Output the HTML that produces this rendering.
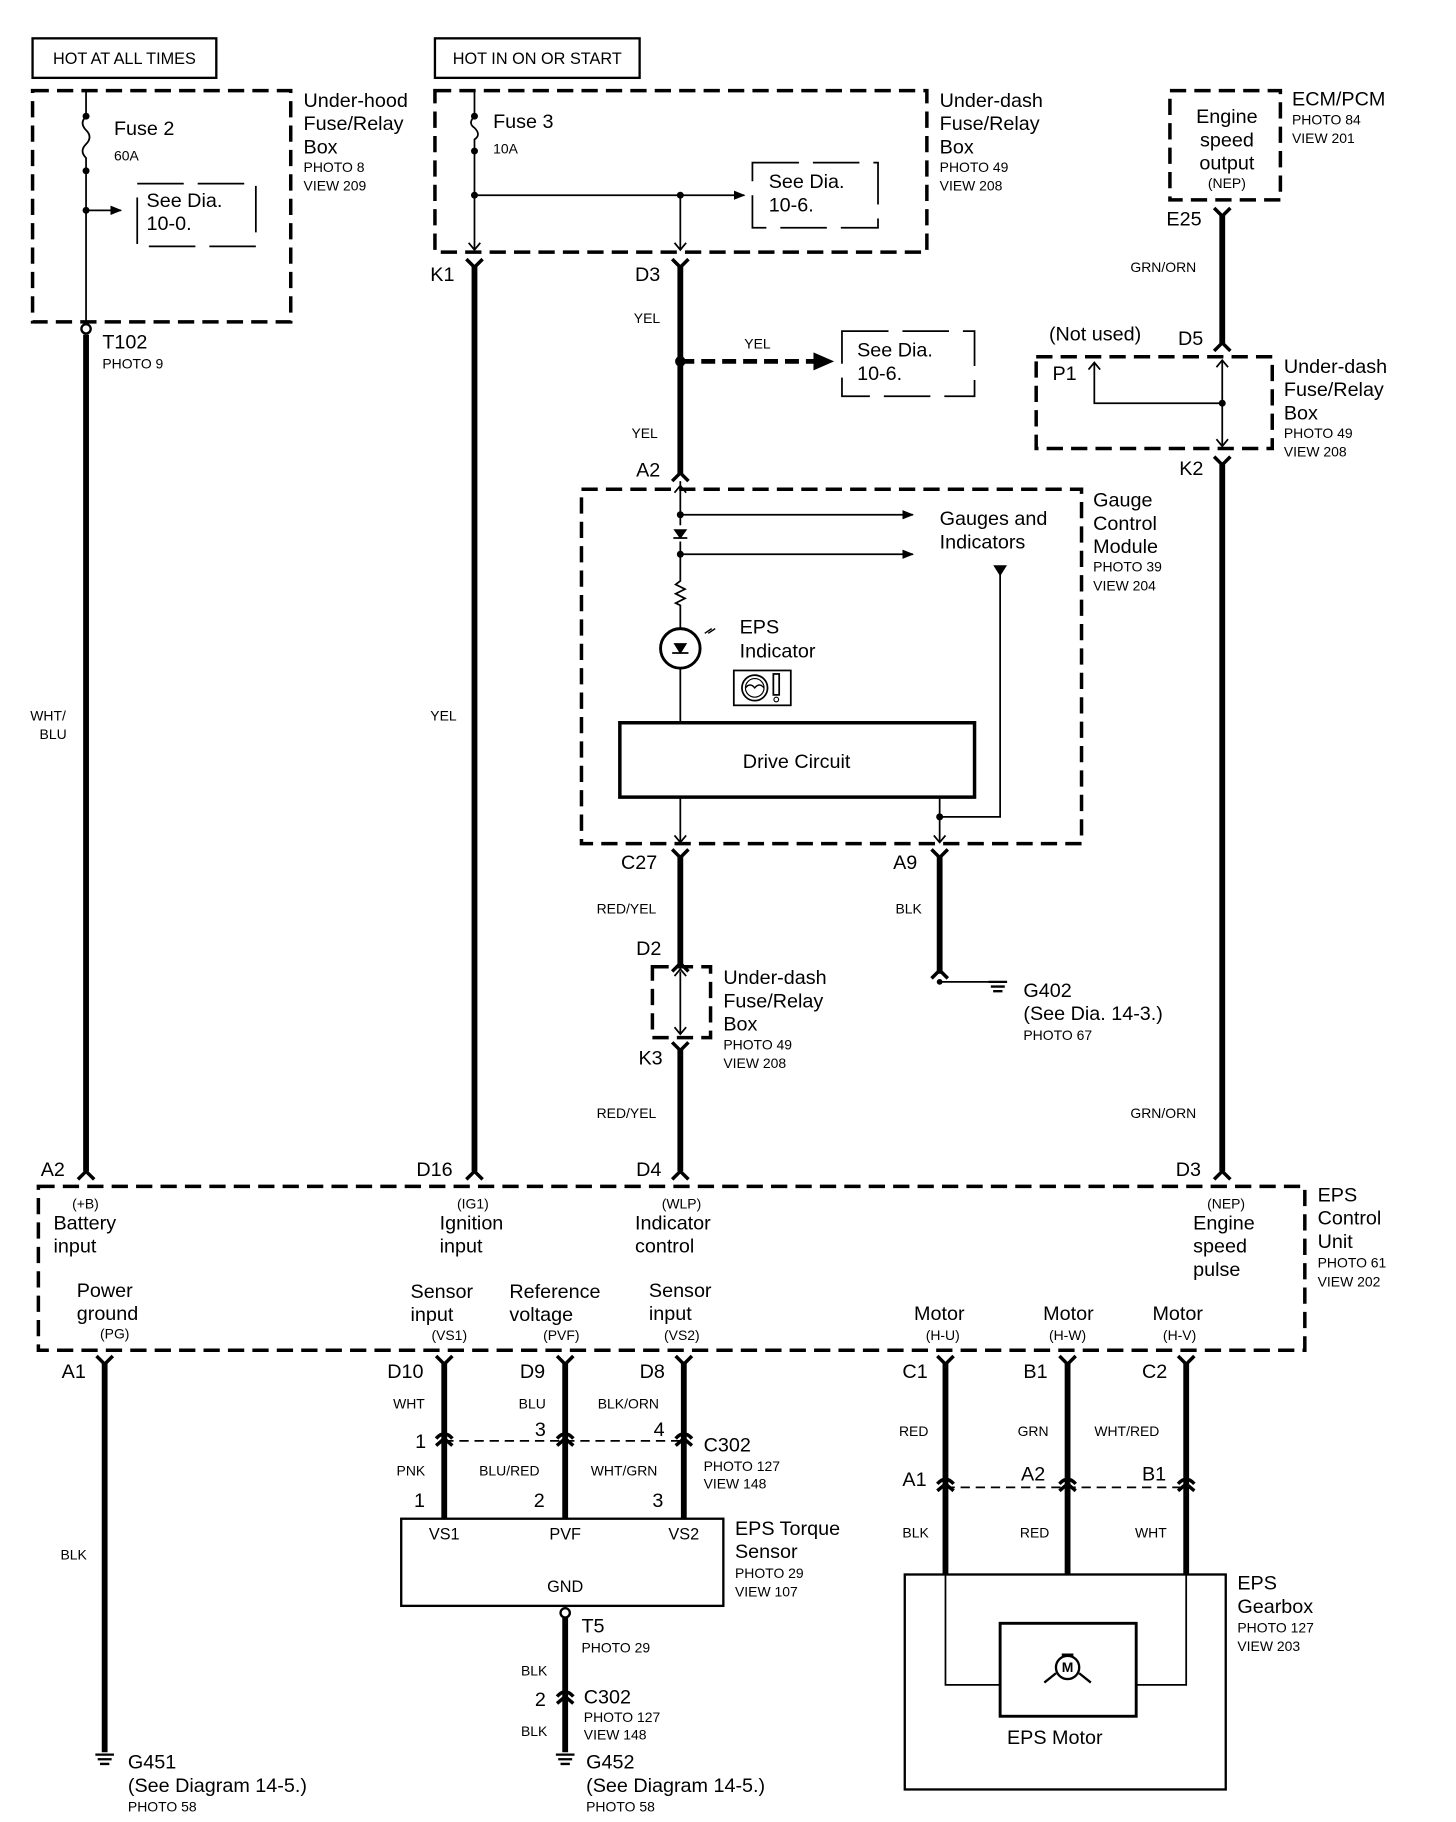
<!DOCTYPE html>
<html><head><meta charset="utf-8"><style>
html,body{margin:0;padding:0;background:#fff;}
svg{display:block;}
text{font-family:"Liberation Sans",Arial,sans-serif;fill:#000;}
.b{font-size:17px;}
.s{font-size:12px;}
.m{font-size:14px;}
</style></head><body>
<svg width="1456" height="1822" viewBox="0 0 1252 1568" preserveAspectRatio="none" xmlns="http://www.w3.org/2000/svg">
<defs>
<marker id="ar" markerWidth="10" markerHeight="10" refX="9" refY="5" orient="auto" markerUnits="userSpaceOnUse"><path d="M0,1 L10,5 L0,9 Z" fill="#000"/></marker>
</defs>
<g fill="none" stroke="#000">
<rect x="28" y="33" width="158" height="34" stroke-width="2"/>
<rect x="374" y="33" width="176" height="34" stroke-width="2"/>
<g stroke-width="3" stroke-dasharray="14,7">
<rect x="28" y="78" width="222" height="199"/>
<rect x="374" y="78" width="423" height="139"/>
<rect x="1006" y="78" width="95" height="94"/>
<rect x="891" y="307" width="203" height="79"/>
<rect x="500" y="421" width="430" height="305"/>
<rect x="561" y="832" width="50" height="61"/>
<rect x="33" y="1021" width="1089" height="141"/>
</g>
<g stroke-width="1.5" stroke-dasharray="40,12">
<rect x="118" y="158" width="102" height="54"/>
<rect x="647" y="140" width="108" height="56"/>
<rect x="724" y="285" width="114" height="56"/>
</g>
<g stroke-width="1.5">
<path d="M74,78 V100 M74,100 q-6,6 0,12 q6,6 0,12 q-6,6 0,12 V277"/>
<path d="M74,181 H104" marker-end="url(#ar)"/>
<path d="M408,78 V100 q-6,6 0,10 q6,6 0,10 V214" />
<path d="M408,168 H640" marker-end="url(#ar)"/>
<path d="M585,168 V214"/>
<path d="M585,414 V452 M585,466 V500 l-4,3 8,4 -8,4 8,4 -8,4 4,2 V541 M585,575 V622"/>
<path d="M585,443 H785" marker-end="url(#ar)"/>
<path d="M585,477 H785" marker-end="url(#ar)"/>
<path d="M860,492 V703 H808"/>
<path d="M585,686 V724 M808,686 V724"/>
<path d="M585,836 V890"/>
<path d="M1051,310 V384 M1051,347 H941 V312"/>
<path d="M808,845 H852"/>
<path d="M382,1240 H588 M813,1280 H1020" stroke-dasharray="8,5"/>
<path d="M813,1355 V1450 H860 M1020,1355 V1450 H977"/>
</g>
<g stroke-width="1.5">
<path d="M403,209 L408,215 L413,209 M580,209 L585,215 L590,209 M580,719 L585,725 L590,719 M803,719 L808,725 L813,719 M580,424 L585,418 L590,424 M580,840 L585,834 L590,840 M580,884 L585,890 L590,884 M1046,316 L1051,310 L1056,316 M1046,378 L1051,384 L1056,378 M936,318 L941,312 L946,318"/>
</g>
<path d="M855,487 H865 L860,495 Z" fill="#000"/>
<path d="M580,456 H590 L585,463 Z" fill="#000"/><path d="M579,463 H591" stroke-width="1.5"/>
<g fill="#000" stroke="none">
<circle cx="74" cy="100" r="3"/><circle cx="74" cy="147" r="3"/><circle cx="74" cy="181" r="3"/>
<circle cx="408" cy="100" r="3"/><circle cx="408" cy="130" r="3"/><circle cx="408" cy="168" r="3"/><circle cx="585" cy="168" r="3"/>
<circle cx="585" cy="311" r="4.5"/><circle cx="585" cy="443" r="3"/><circle cx="585" cy="477" r="3"/><circle cx="808" cy="703" r="3"/>
<circle cx="1051" cy="347" r="3"/><circle cx="808" cy="845" r="2.5"/>
</g>
<g stroke-width="5">
<path d="M74,288 V1008"/>
<path d="M408,228 V1008"/>
<path d="M585,228 V408"/>
<path d="M585,736 V830 M585,902 V1008"/>
<path d="M808,736 V838"/>
<path d="M1051,184 V296 M1051,398 V1008"/>
<path d="M90,1172 V1508"/>
<path d="M382,1172 V1307 M486,1172 V1307 M588,1172 V1307"/>
<path d="M486,1392 V1508"/>
<path d="M813,1172 V1355 M918,1172 V1355 M1020,1172 V1355"/>
</g>
<path d="M585,311 H712" stroke-width="4" stroke-dasharray="12,6" />
<path d="M700,304 L716,311 L700,318 Z" fill="#000"/>
<g stroke-width="3">
<path d="M401,223 L408,230 L415,223 M578,223 L585,230 L592,223 M1044,179 L1051,186 L1058,179 M1044,393 L1051,400 L1058,393 M578,731 L585,738 L592,731 M801,731 L808,738 L815,731 M578,897 L585,904 L592,897
 M83,1167 L90,1174 L97,1167 M375,1167 L382,1174 L389,1167 M479,1167 L486,1174 L493,1167 M581,1167 L588,1174 L595,1167 M806,1167 L813,1174 L820,1167 M911,1167 L918,1174 L925,1167 M1013,1167 L1020,1174 L1027,1167"/>
<path d="M67,1015 L74,1008 L81,1015 M401,1015 L408,1008 L415,1015 M578,1015 L585,1008 L592,1015 M1044,1015 L1051,1008 L1058,1015 M578,414 L585,407 L592,414 M1044,302 L1051,295 L1058,302 M801,842 L808,835 L815,842 M578,836 L585,829 L592,836"/>
<path d="M375,1238 Q382,1230 389,1238 M375,1244 L382,1238 L389,1244 M479,1238 Q486,1230 493,1238 M479,1244 L486,1238 L493,1244 M581,1238 Q588,1230 595,1238 M581,1244 L588,1238 L595,1244"/>
<path d="M806,1277 Q813,1269 820,1277 M806,1283 L813,1277 L820,1283 M911,1277 Q918,1269 925,1277 M911,1283 L918,1277 L925,1283 M1013,1277 Q1020,1269 1027,1277 M1013,1283 L1020,1277 L1027,1283"/>
<path d="M479,1460 Q486,1452 493,1460 M479,1466 L486,1460 L493,1466"/>
</g>
<circle cx="74" cy="283" r="4" stroke-width="2" fill="#fff"/>
<circle cx="486" cy="1388" r="4" stroke-width="2" fill="#fff"/>
<circle cx="585" cy="558" r="17" stroke-width="2.5"/>
<path d="M580,554 H590 L585,562 Z" fill="#000"/><path d="M578,562 H592" stroke-width="1.5"/>
<path d="M606,545 l6,-4 m-3,4 l6,-4" stroke-width="1.2"/>
<rect x="631" y="577" width="49" height="30" stroke-width="1.5"/>
<circle cx="649" cy="592" r="11" stroke-width="1.5"/><circle cx="649" cy="592" r="8" stroke-width="1"/>
<path d="M641,592 q4,-5 8,0 q4,-5 8,0" stroke-width="1.2"/>
<rect x="665" y="580" width="5" height="18" stroke-width="1.5"/><circle cx="667.5" cy="602" r="2" stroke-width="1"/>
<rect x="533" y="622" width="305" height="64" stroke-width="3"/>
<rect x="345" y="1307" width="277" height="75" stroke-width="2"/>
<rect x="778" y="1355" width="276" height="185" stroke-width="2"/>
<rect x="860" y="1397" width="117" height="80" stroke-width="2.5"/>
<circle cx="918" cy="1435" r="10" stroke-width="2"/>
<path d="M898,1448 L908,1440 M938,1448 L928,1440 M913,1424 h10" stroke-width="2"/>
<g stroke-width="2">
<path d="M82,1510 h16 M84,1514 h12 M86,1518 h8"/>
<path d="M478,1510 h16 M480,1514 h12 M482,1518 h8"/>
<path d="M850,845 h16 M852,849 h12 M854,853 h8"/>
</g>
</g>
<text class="m" x="107" y="55" text-anchor="middle">HOT AT ALL TIMES</text>
<text class="m" x="462" y="55" text-anchor="middle">HOT IN ON OR START</text>
<text class="b" x="98" y="116">Fuse 2</text><text class="s" x="98" y="138">60A</text>
<text class="b" x="126" y="178">See Dia.</text><text class="b" x="126" y="198">10-0.</text>
<text class="b" x="261" y="92">Under-hood</text><text class="b" x="261" y="112">Fuse/Relay</text><text class="b" x="261" y="132">Box</text><text class="s" x="261" y="148">PHOTO 8</text><text class="s" x="261" y="164">VIEW 209</text>
<text class="b" x="88" y="300">T102</text><text class="s" x="88" y="317">PHOTO 9</text>
<text class="s" x="26" y="620">WHT/</text><text class="s" x="34" y="636">BLU</text>
<text class="b" x="424" y="110">Fuse 3</text><text class="s" x="424" y="132">10A</text>
<text class="b" x="661" y="162">See Dia.</text><text class="b" x="661" y="182">10-6.</text>
<text class="b" x="808" y="92">Under-dash</text><text class="b" x="808" y="112">Fuse/Relay</text><text class="b" x="808" y="132">Box</text><text class="s" x="808" y="148">PHOTO 49</text><text class="s" x="808" y="164">VIEW 208</text>
<text class="b" x="370" y="242">K1</text><text class="s" x="370" y="620">YEL</text><text class="b" x="358" y="1012">D16</text>
<text class="b" x="546" y="242">D3</text><text class="s" x="545" y="278">YEL</text>
<text class="s" x="640" y="300">YEL</text>
<text class="b" x="737" y="307">See Dia.</text><text class="b" x="737" y="327">10-6.</text>
<text class="s" x="543" y="377">YEL</text><text class="b" x="547" y="410">A2</text>
<text class="b" x="808" y="452">Gauges and</text><text class="b" x="808" y="472">Indicators</text>
<text class="b" x="636" y="545">EPS</text><text class="b" x="636" y="566">Indicator</text>
<text class="b" x="685" y="661" text-anchor="middle">Drive Circuit</text>
<text class="b" x="940" y="436">Gauge</text><text class="b" x="940" y="456">Control</text><text class="b" x="940" y="476">Module</text><text class="s" x="940" y="492">PHOTO 39</text><text class="s" x="940" y="508">VIEW 204</text>
<text class="b" x="534" y="748">C27</text><text class="s" x="513" y="786">RED/YEL</text><text class="b" x="547" y="822">D2</text>
<text class="b" x="549" y="916">K3</text><text class="s" x="513" y="962">RED/YEL</text><text class="b" x="547" y="1012">D4</text>
<text class="b" x="622" y="847">Under-dash</text><text class="b" x="622" y="867">Fuse/Relay</text><text class="b" x="622" y="887">Box</text><text class="s" x="622" y="903">PHOTO 49</text><text class="s" x="622" y="919">VIEW 208</text>
<text class="b" x="768" y="748">A9</text><text class="s" x="770" y="786">BLK</text>
<text class="b" x="880" y="858">G402</text><text class="b" x="880" y="878">(See Dia. 14-3.)</text><text class="s" x="880" y="895">PHOTO 67</text>
<text class="b" x="1055" y="106" text-anchor="middle">Engine</text><text class="b" x="1055" y="126" text-anchor="middle">speed</text><text class="b" x="1055" y="146" text-anchor="middle">output</text><text class="s" x="1055" y="162" text-anchor="middle">(NEP)</text>
<text class="b" x="1111" y="91">ECM/PCM</text><text class="s" x="1111" y="107">PHOTO 84</text><text class="s" x="1111" y="123">VIEW 201</text>
<text class="b" x="1003" y="194">E25</text><text class="s" x="972" y="234">GRN/ORN</text>
<text class="b" x="902" y="293">(Not used)</text><text class="b" x="1013" y="297">D5</text><text class="b" x="905" y="327">P1</text>
<text class="b" x="1104" y="321">Under-dash</text><text class="b" x="1104" y="341">Fuse/Relay</text><text class="b" x="1104" y="361">Box</text><text class="s" x="1104" y="377">PHOTO 49</text><text class="s" x="1104" y="393">VIEW 208</text>
<text class="b" x="1014" y="409">K2</text><text class="s" x="972" y="962">GRN/ORN</text><text class="b" x="1011" y="1012">D3</text>
<text class="b" x="35" y="1012">A2</text>
<text class="s" x="62" y="1040">(+B)</text><text class="b" x="46" y="1058">Battery</text><text class="b" x="46" y="1078">input</text>
<text class="s" x="393" y="1040">(IG1)</text><text class="b" x="378" y="1058">Ignition</text><text class="b" x="378" y="1078">input</text>
<text class="s" x="569" y="1040">(WLP)</text><text class="b" x="546" y="1058">Indicator</text><text class="b" x="546" y="1078">control</text>
<text class="s" x="1038" y="1040">(NEP)</text><text class="b" x="1026" y="1058">Engine</text><text class="b" x="1026" y="1078">speed</text><text class="b" x="1026" y="1098">pulse</text>
<text class="b" x="1133" y="1034">EPS</text><text class="b" x="1133" y="1054">Control</text><text class="b" x="1133" y="1074">Unit</text><text class="s" x="1133" y="1091">PHOTO 61</text><text class="s" x="1133" y="1107">VIEW 202</text>
<text class="b" x="66" y="1116">Power</text><text class="b" x="66" y="1136">ground</text><text class="s" x="86" y="1152">(PG)</text>
<text class="b" x="353" y="1117">Sensor</text><text class="b" x="353" y="1137">input</text><text class="s" x="371" y="1153">(VS1)</text>
<text class="b" x="438" y="1117">Reference</text><text class="b" x="438" y="1137">voltage</text><text class="s" x="467" y="1153">(PVF)</text>
<text class="b" x="558" y="1116">Sensor</text><text class="b" x="558" y="1136">input</text><text class="s" x="571" y="1153">(VS2)</text>
<text class="b" x="786" y="1136">Motor</text><text class="s" x="796" y="1153">(H-U)</text>
<text class="b" x="897" y="1136">Motor</text><text class="s" x="902" y="1153">(H-W)</text>
<text class="b" x="991" y="1136">Motor</text><text class="s" x="1000" y="1153">(H-V)</text>
<text class="b" x="53" y="1186">A1</text><text class="s" x="52" y="1342">BLK</text>
<text class="b" x="110" y="1522">G451</text><text class="b" x="110" y="1542">(See Diagram 14-5.)</text><text class="s" x="110" y="1559">PHOTO 58</text>
<text class="b" x="333" y="1186">D10</text><text class="b" x="447" y="1186">D9</text><text class="b" x="550" y="1186">D8</text>
<text class="s" x="338" y="1212">WHT</text><text class="s" x="446" y="1212">BLU</text><text class="s" x="514" y="1212">BLK/ORN</text>
<text class="b" x="357" y="1246">1</text><text class="b" x="460" y="1236">3</text><text class="b" x="562" y="1236">4</text>
<text class="b" x="605" y="1249">C302</text><text class="s" x="605" y="1266">PHOTO 127</text><text class="s" x="605" y="1281">VIEW 148</text>
<text class="s" x="341" y="1270">PNK</text><text class="s" x="412" y="1270">BLU/RED</text><text class="s" x="508" y="1270">WHT/GRN</text>
<text class="b" x="356" y="1297">1</text><text class="b" x="459" y="1297">2</text><text class="b" x="561" y="1297">3</text>
<text class="m" x="382" y="1325" text-anchor="middle">VS1</text><text class="m" x="486" y="1325" text-anchor="middle">PVF</text><text class="m" x="588" y="1325" text-anchor="middle">VS2</text><text class="m" x="486" y="1370" text-anchor="middle">GND</text>
<text class="b" x="632" y="1321">EPS Torque</text><text class="b" x="632" y="1341">Sensor</text><text class="s" x="632" y="1358">PHOTO 29</text><text class="s" x="632" y="1374">VIEW 107</text>
<text class="b" x="500" y="1405">T5</text><text class="s" x="500" y="1422">PHOTO 29</text>
<text class="s" x="448" y="1442">BLK</text><text class="b" x="460" y="1468">2</text>
<text class="b" x="502" y="1466">C302</text><text class="s" x="502" y="1482">PHOTO 127</text><text class="s" x="502" y="1497">VIEW 148</text>
<text class="s" x="448" y="1494">BLK</text>
<text class="b" x="504" y="1522">G452</text><text class="b" x="504" y="1542">(See Diagram 14-5.)</text><text class="s" x="504" y="1559">PHOTO 58</text>
<text class="b" x="776" y="1186">C1</text><text class="b" x="880" y="1186">B1</text><text class="b" x="982" y="1186">C2</text>
<text class="s" x="773" y="1236">RED</text><text class="s" x="875" y="1236">GRN</text><text class="s" x="941" y="1236">WHT/RED</text>
<text class="b" x="776" y="1279">A1</text><text class="b" x="878" y="1274">A2</text><text class="b" x="982" y="1274">B1</text>
<text class="s" x="776" y="1323">BLK</text><text class="s" x="877" y="1323">RED</text><text class="s" x="976" y="1323">WHT</text>
<text style="font-size:12px;font-weight:bold" x="918" y="1439" text-anchor="middle">M</text>
<text class="b" x="907" y="1501" text-anchor="middle">EPS Motor</text>
<text class="b" x="1064" y="1368">EPS</text><text class="b" x="1064" y="1388">Gearbox</text><text class="s" x="1064" y="1405">PHOTO 127</text><text class="s" x="1064" y="1421">VIEW 203</text>
</svg>
</body></html>
